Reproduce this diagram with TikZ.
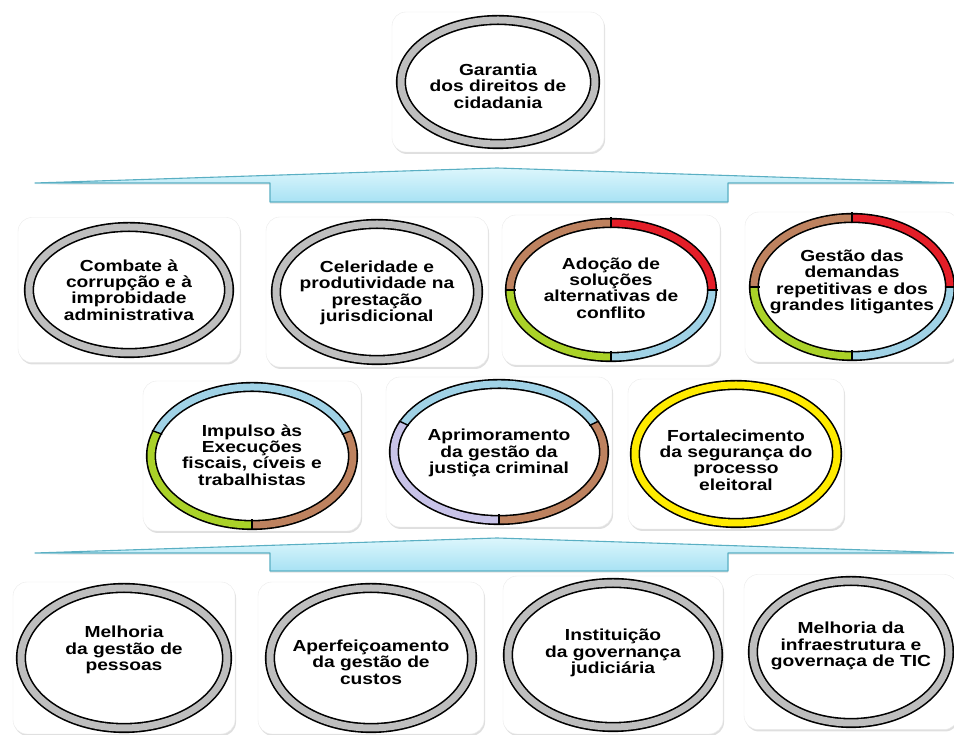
\documentclass[tikz,border=0pt]{standalone}
\usepackage{fontspec}
\setmainfont{Liberation Sans}[FakeStretch=1.2]
\usetikzlibrary{shadows}
\definecolor{ringgray}{RGB}{190,190,190}
\definecolor{segbrown}{RGB}{190,130,95}
\definecolor{segred}{RGB}{228,30,40}
\definecolor{segblue}{RGB}{160,210,230}
\definecolor{seggreen}{RGB}{170,210,40}
\definecolor{seglilac}{RGB}{200,195,232}
\definecolor{segyellow}{RGB}{255,235,0}
\definecolor{bandline}{RGB}{90,175,195}
\definecolor{bandtop}{RGB}{220,246,252}
\definecolor{bandbot}{RGB}{168,226,244}

\begin{document}
\begin{tikzpicture}[x=1pt, y=1pt,
  card/.style={draw=black!8, fill=white, rounded corners=14pt, drop shadow={opacity=0.25, shadow xshift=1pt, shadow yshift=-2pt}},
  goal/.style={font=\bfseries\fontsize{16}{16.3}\selectfont, align=center, inner sep=0pt},
  rim/.style={draw=black, line width=1.6pt, double=ringgray, double distance=7pt},
  seg/.style={draw=black, line width=1.6pt, double distance=7pt},
  cut/.style={draw=black, line width=1.4pt},
  band/.style={draw=bandline, line width=1.1pt, top color=bandtop, bottom color=bandbot, line join=round, drop shadow={opacity=0.15, shadow xshift=0pt, shadow yshift=-2pt}}]
\useasboundingbox (0,0) rectangle (954,735);

\node[card, minimum width=212, minimum height=140] (k0) at (498,653) {};
\node[card, minimum width=222, minimum height=145] (k1) at (129,445) {};
\node[card, minimum width=222, minimum height=150] (k2) at (377,443) {};
\node[card, minimum width=218, minimum height=150] (k3) at (611,445) {};
\node[card, minimum width=214, minimum height=150] (k4) at (852,448) {};
\node[card, minimum width=218, minimum height=150] (k5) at (252,279) {};
\node[card, minimum width=226, minimum height=150] (k6) at (499,283) {};
\node[card, minimum width=216, minimum height=150] (k7) at (736,281) {};
\node[card, minimum width=222, minimum height=152] (k9) at (124,77) {};
\node[card, minimum width=226, minimum height=152] (k10) at (371,77) {};
\node[card, minimum width=220, minimum height=158] (k11) at (613,80) {};
\node[card, minimum width=214, minimum height=155] (k12) at (851,83) {};

\draw[rim] (k0.center) ellipse[x radius=97, y radius=62];
\draw[rim] (k1.center) ellipse[x radius=100, y radius=63];
\draw[rim] (k2.center) ellipse[x radius=101, y radius=68];
\foreach \a/\b/\c in {0/90/segred, 90/180/segbrown, 180/270/seggreen, 270/360/segblue}
  \draw[seg, double=\c] (k3.center) ++(\a:101 and 67) arc[start angle=\a, end angle=\b, x radius=101, y radius=67];
\foreach \a/\b/\c in {0/90/segred, 90/180/segbrown, 180/270/seggreen, 270/360/segblue}
  \draw[seg, double=\c] (k4.center) ++(\a:98 and 69) arc[start angle=\a, end angle=\b, x radius=98, y radius=69];
\foreach \a/\b/\c in {20/160/segblue, 160/270/seggreen, 270/380/segbrown}
  \draw[seg, double=\c] (k5.center) ++(\a:101 and 69) arc[start angle=\a, end angle=\b, x radius=101, y radius=69];
\foreach \a/\b/\c in {25/155/segblue, 155/270/seglilac, 270/385/segbrown}
  \draw[seg, double=\c] (k6.center) ++(\a:105 and 68) arc[start angle=\a, end angle=\b, x radius=105, y radius=68];
\draw[rim, double=segyellow] (k7.center) ellipse[x radius=101, y radius=69];
\draw[rim] (k9.center) ellipse[x radius=103, y radius=70];
\draw[rim] (k10.center) ellipse[x radius=101, y radius=70];
\draw[rim] (k11.center) ellipse[x radius=105, y radius=72];
\draw[rim] (k12.center) ellipse[x radius=98, y radius=71];

\foreach \a in {0,90,180,270} {
  \draw[cut] (k3.center) ++(\a:95.5 and 61.5) -- ++(\a:11 and 11);
  \draw[cut] (k4.center) ++(\a:92.5 and 63.5) -- ++(\a:11 and 11);
}
\foreach \a in {20,160,270}
  \draw[cut] (k5.center) ++(\a:95.5 and 63.5) -- ++(\a:11 and 11);
\foreach \a in {25,155,270}
  \draw[cut] (k6.center) ++(\a:99.5 and 62.5) -- ++(\a:11 and 11);

\node[goal, yshift=-4] (t0) at (k0) {Garantia\\dos direitos de\\cidadania};
\node[goal] (t1) at (k1) {Combate à\\corrupção e à\\improbidade\\administrativa};
\node[goal, yshift=-1] (t2) at (k2) {Celeridade e\\produtividade na\\prestação\\jurisdicional};
\node[goal, yshift=2] (t3) at (k3) {Adoção de\\soluções\\alternativas de\\conflito};
\node[goal, yshift=5] (t4) at (k4) {Gestão das\\demandas\\repetitivas e dos\\grandes litigantes};
\node[goal, yshift=1] (t5) at (k5) {Impulso às\\Execuções\\fiscais, cíveis e\\trabalhistas};
\node[goal, yshift=-1] (t6) at (k6) {Aprimoramento\\da gestão da\\justiça criminal};
\node[goal, yshift=-6] (t7) at (k7) {Fortalecimento\\da segurança do\\processo\\eleitoral};
\node[goal, yshift=8] (t9) at (k9) {Melhoria\\da gestão de\\pessoas};
\node[goal, yshift=-4] (t10) at (k10) {Aperfeiçoamento\\da gestão de\\custos};
\node[goal, yshift=2] (t11) at (k11) {Instituição\\da governança\\judiciária};
\node[goal, yshift=6] (t12) at (k12) {Melhoria da\\infraestrutura e\\governaça de TIC};

\draw[band] (35,552) -- (497,567) -- (958,552) -- (728,552) -- (728,533) -- (270,533) -- (270,552) -- cycle;
\draw[band] (35,182) -- (497,197) -- (958,182) -- (728,182) -- (728,164) -- (270,164) -- (270,182) -- cycle;
\end{tikzpicture}
\end{document}
